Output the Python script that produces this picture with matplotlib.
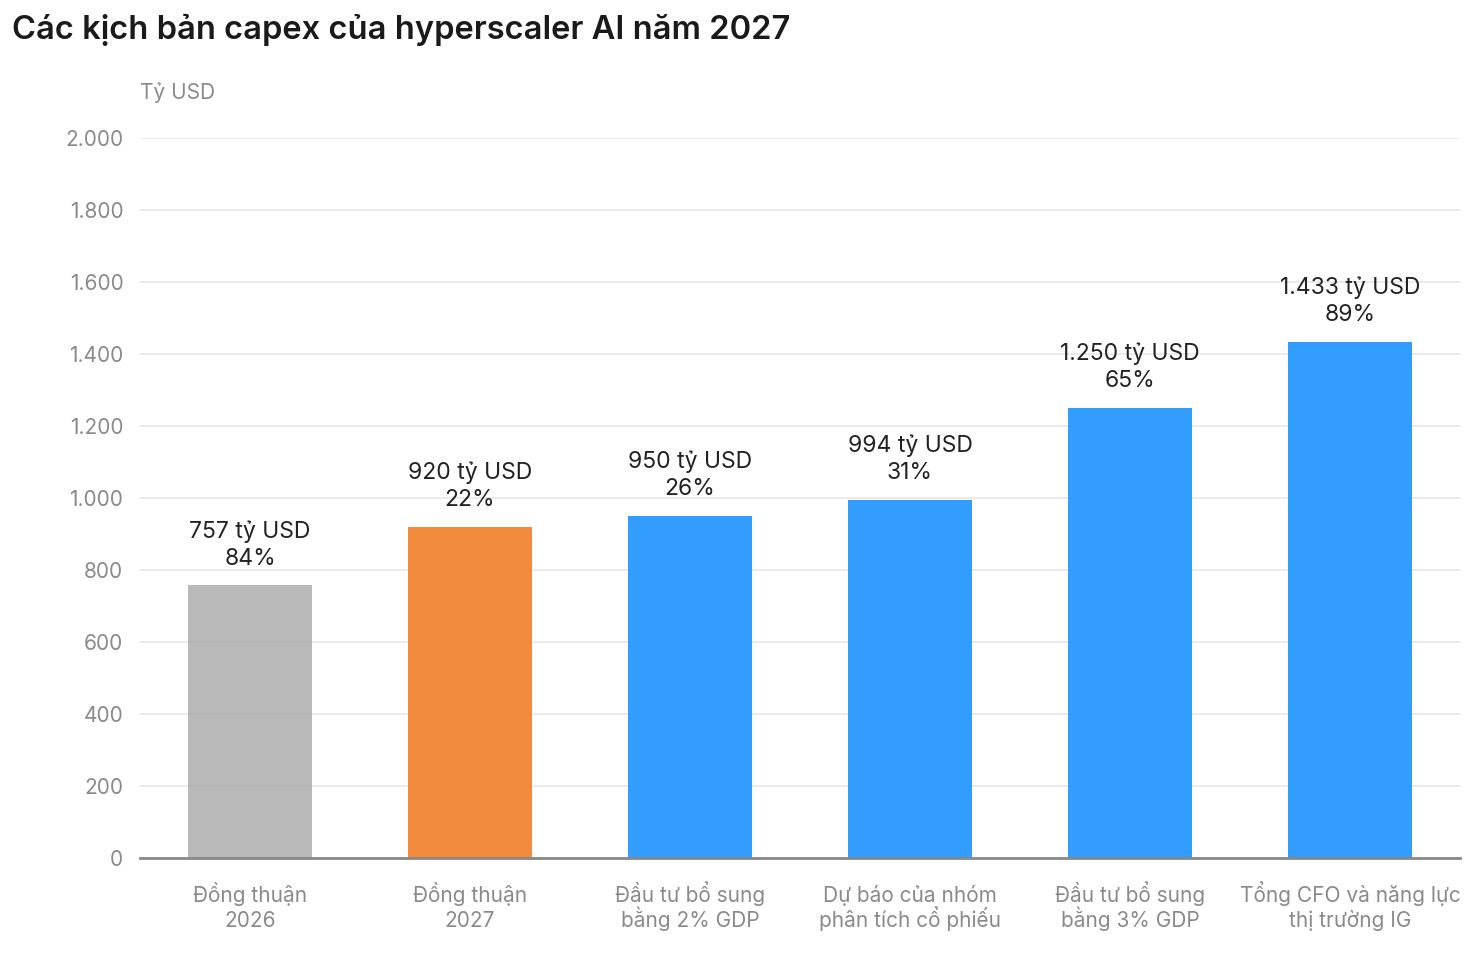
import matplotlib.pyplot as plt
from matplotlib.ticker import FuncFormatter

plt.rcParams['font.family'] = ['Inter', 'DejaVu Sans']

# data
categories = [('Đồng thuận', '2026'), ('Đồng thuận', '2027'), ('Đầu tư bổ sung', 'bằng 2% GDP'),
              ('Dự báo của nhóm', 'phân tích cổ phiếu'), ('Đầu tư bổ sung', 'bằng 3% GDP'),
              ('Tổng CFO và năng lực', 'thị trường IG')]
values = [757, 920, 950, 994, 1250, 1433]
shares = [84, 22, 26, 31, 65, 89]
bar_colors = ['#a8a8a8', '#f28b3c', '#339cff', '#339cff', '#339cff', '#339cff']
y_ticks = list(range(0, 2001, 200))


def vn_num(v):
    # vietnamese thousands separator
    return f'{int(v):,}'.replace(',', '.')


fig = plt.figure(figsize=(14.7, 9.6), dpi=100)
ax = fig.add_axes([140 / 1470, 1 - 858 / 960, 1320 / 1470, 720 / 960])

x = list(range(len(categories)))
bars = ax.bar(x, values, width=0.565, color=bar_colors, zorder=2)
bars[0].set_alpha(0.8)

ax.set_xlim(-0.5, 5.5)
ax.set_ylim(0, 2000)
ax.set_yticks(y_ticks)
ax.yaxis.set_major_formatter(FuncFormatter(lambda v, p: vn_num(v)))
ax.grid(axis='y', color='#e8e8e8', linewidth=1.2, zorder=0)
ax.set_axisbelow(True)
for s in ['top', 'right', 'left']:
    ax.spines[s].set_visible(False)
ax.spines['bottom'].set_color('#888888')
ax.spines['bottom'].set_linewidth(2)
ax.spines['bottom'].set_zorder(3)

ax.set_xticks(x)
ax.set_xticklabels([])
ax.tick_params(axis='x', length=0)
ax.tick_params(axis='y', length=0, pad=12, labelsize=15, labelcolor='#8a8a8a')

# category labels, two lines on fixed baselines
for xi, (l1, l2) in zip(x, categories):
    for txt, off in [(l1, -31.7), (l2, -49.7)]:
        ax.annotate(txt, (xi, 0), xycoords=('data', 'axes fraction'), xytext=(0, off),
                    textcoords='offset points', ha='center', va='baseline',
                    fontsize=15, color='#8a8a8a', annotation_clip=False)

# value labels above bars
for xi, v, sh in zip(x, values, shares):
    ax.annotate(f'{sh}%', (xi, v), xytext=(0, 15), textcoords='offset points',
                ha='center', va='baseline', fontsize=16.5, color='#222222')
    ax.annotate(f'{vn_num(v)} tỷ USD', (xi, v), xytext=(0, 34.5), textcoords='offset points',
                ha='center', va='baseline', fontsize=16.5, color='#222222')

fig.text(12 / 1470, 1 - 30 / 960, 'Các kịch bản capex của hyperscaler AI năm 2027',
         fontsize=23.5, fontweight='semibold', color='#1a1a1a', ha='left', va='center')
fig.text(140 / 1470, 1 - 93 / 960, 'Tỷ USD', fontsize=15, color='#8a8a8a',
         ha='left', va='center')

fig.savefig('out.png', dpi=100, facecolor='white')
